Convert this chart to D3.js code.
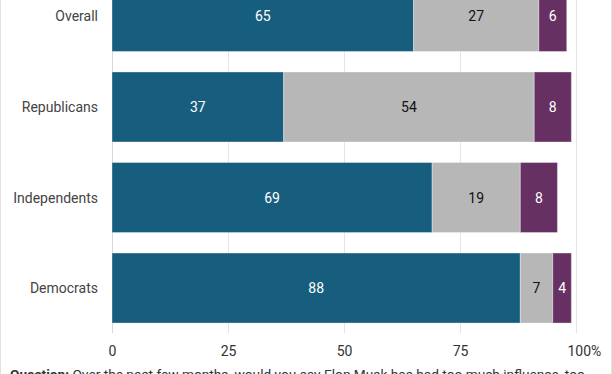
<!DOCTYPE html>
<html><head><meta charset="utf-8">
<script src="https://cdn.jsdelivr.net/npm/d3@7"></script>
<style>html,body{margin:0;padding:0;background:#fff;overflow:hidden}svg{display:block;font-family:Roboto,sans-serif}</style>
</head><body><svg id="c" width="612" height="374"></svg>
<script>
const categories = ["Overall","Republicans","Independents","Democrats"];
const tooMuch = [65,37,69,88];
const rightAmount = [27,54,19,7];
const tooLittle = [6,8,8,4];
const ticks = [0,25,50,75,100];
const seriesKeys = ["tooMuch","rightAmount","tooLittle"];
const colors = ["#175e7e","#b7b7b7","#663063"];
const textColors = ["#ffffff","#111111","#ffffff"];

const svg = d3.select("#c");
const rows = categories.map((c,i)=>({cat:c,tooMuch:tooMuch[i],rightAmount:rightAmount[i],tooLittle:tooLittle[i]}));
const stack = d3.stack().keys(seriesKeys)(rows);

const x = d3.scaleLinear().domain([0,100]).range([112,576]);
const y = d3.scaleBand().domain(categories).range([-28.5,333]).paddingInner(0.2265).paddingOuter(0.11);

// frame
svg.append("line").attr("x1",0.5).attr("x2",0.5).attr("y1",0).attr("y2",374).attr("stroke","#e2e2e2");
svg.append("line").attr("x1",611.5).attr("x2",611.5).attr("y1",0).attr("y2",374).attr("stroke","#e2e2e2");

// grid
svg.append("g").selectAll("line").data(ticks).join("line")
  .attr("x1",d=>x(d)+0.5).attr("x2",d=>x(d)+0.5).attr("y1",0).attr("y2",333)
  .attr("stroke",d=>d===0?"#d8d8d8":"#e4e4e4").attr("stroke-width",1);

// bars
const g = svg.append("g");
stack.forEach((s,si)=>{
  g.selectAll(null).data(s).join("rect")
    .attr("x",d=>x(d[0])).attr("width",d=>x(d[1])-x(d[0]))
    .attr("y",d=>y(d.data.cat)).attr("height",y.bandwidth())
    .attr("fill",colors[si]).attr("stroke","#ffffff").attr("stroke-opacity",0.35).attr("stroke-width",1);
  g.selectAll(null).data(s).join("text")
    .attr("x",d=>(x(d[0])+x(d[1]))/2).attr("y",d=>y(d.data.cat)+y.bandwidth()/2)
    .attr("text-anchor","middle").attr("dominant-baseline","central")
    .attr("font-size",14).attr("fill",textColors[si])
    .text(d=>d[1]-d[0]);
});

// category labels
svg.append("g").selectAll("text").data(categories).join("text")
  .attr("x",98).attr("y",d=>y(d)+y.bandwidth()/2)
  .attr("text-anchor","end").attr("dominant-baseline","central")
  .attr("font-size",14).attr("fill","#444").text(d=>d);

// x axis labels
const xAxis = d3.axisBottom(x).tickValues(ticks).tickSize(0).tickPadding(0)
  .tickFormat(d=>d===100?"100%":d);
const ax = svg.append("g").attr("transform","translate(0,346)").call(xAxis);
ax.select(".domain").remove();
ax.selectAll("text").attr("font-size",14).attr("fill","#333").attr("font-family","Roboto,sans-serif")
  .attr("dy","0.71em")
  .attr("text-anchor",d=>d===100?"start":"middle")
  .attr("dx",d=>d===100?"-9":"0");

// question text
const q = svg.append("text").attr("x",10).attr("y",379).attr("font-size",13.7).attr("fill","#333");
q.append("tspan").attr("font-weight","bold").text("Question:");
q.append("tspan").text(" Over the past few months, would you say Elon Musk has had too much influence, too");
</script></body></html>
